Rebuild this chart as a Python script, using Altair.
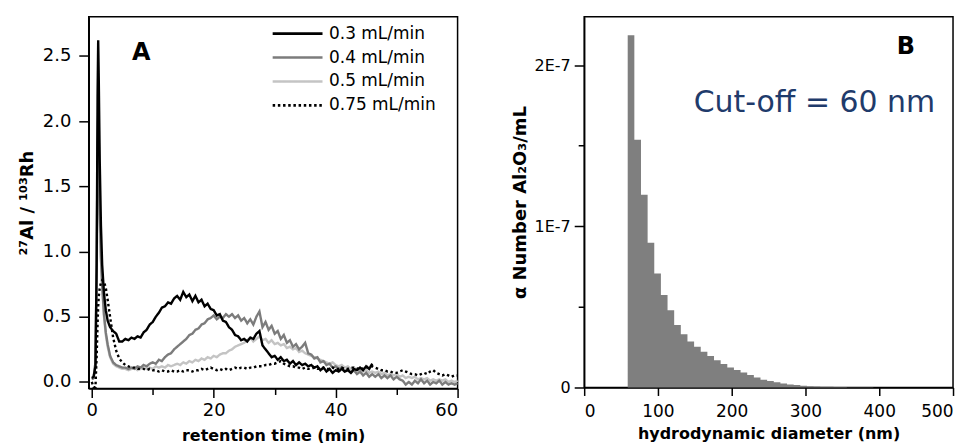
import altair as alt
import pandas as pd

# ---------------- Panel A data ----------------
t_early = [0.0, 0.3, 0.6, 0.8, 0.95, 1.05, 1.15, 1.3, 1.5, 1.7, 2.0, 2.3, 2.6, 3.0, 3.5, 4.0, 4.5]
t_late = [
    5.0, 5.5, 6.0, 6.5, 7.0, 7.5, 8.0, 8.5, 9.0, 9.5,
    10.0, 10.5, 11.0, 11.5, 12.0, 12.5, 13.0, 13.5, 14.0, 14.5,
    15.0, 15.5, 16.0, 16.5, 17.0, 17.5, 18.0, 18.5, 19.0, 19.5,
    20.0, 20.5, 21.0, 21.5, 22.0, 22.5, 23.0, 23.5, 24.0, 24.5,
    25.0, 25.5, 26.0, 26.5, 27.0, 27.5, 28.0, 28.5, 29.0, 29.5,
    30.0, 30.5, 31.0, 31.5, 32.0, 32.5, 33.0, 33.5, 34.0, 34.5,
    35.0, 35.5, 36.0, 36.5, 37.0, 37.5, 38.0, 38.5, 39.0, 39.5,
    40.0, 40.5, 41.0, 41.5, 42.0, 42.5, 43.0, 43.5, 44.0, 44.5,
    45.0, 45.5, 46.0, 46.5, 47.0, 47.5, 48.0, 48.5, 49.0, 49.5,
    50.0, 50.5, 51.0, 51.5, 52.0, 52.5, 53.0, 53.5, 54.0, 54.5,
    55.0, 55.5, 56.0, 56.5, 57.0, 57.5, 58.0, 58.5, 59.0, 59.5,
    60.0,
]

flow_03_early = [0.03, 0.04, 0.12, 0.9, 2.2, 2.62, 2.3, 1.7, 1.2, 0.9, 0.68, 0.55, 0.47, 0.42, 0.39, 0.37, 0.31]
flow_03_late = [
    0.31, 0.33, 0.32, 0.34, 0.33, 0.35, 0.34, 0.38, 0.40, 0.44,
    0.46, 0.50, 0.53, 0.57, 0.58, 0.61, 0.60, 0.64, 0.66, 0.63,
    0.69, 0.65, 0.67, 0.62, 0.66, 0.61, 0.63, 0.58, 0.60, 0.56,
    0.55, 0.51, 0.52, 0.47, 0.46, 0.42, 0.40, 0.36, 0.35, 0.32,
    0.33, 0.31, 0.34, 0.33, 0.37, 0.39, 0.28, 0.25, 0.22, 0.19,
    0.20, 0.17, 0.19, 0.16, 0.17, 0.14, 0.16, 0.13, 0.15, 0.13,
    0.14, 0.12, 0.13, 0.11, 0.12, 0.09, 0.11, 0.08, 0.10, 0.07,
    0.09, 0.08, 0.10, 0.08, 0.09, 0.07, 0.10, 0.09, 0.11, 0.09,
    0.12, 0.10, 0.14,
]

flow_04_early = [0.02, 0.03, 0.15, 0.9, 1.8, 2.05, 1.85, 1.35, 0.95, 0.75, 0.52, 0.38, 0.29, 0.20, 0.15, 0.13, 0.12]
flow_04_late = [
    0.11, 0.11, 0.10, 0.11, 0.10, 0.12, 0.11, 0.13, 0.12, 0.14,
    0.15, 0.14, 0.17, 0.16, 0.19, 0.21, 0.22, 0.25, 0.27, 0.29,
    0.31, 0.33, 0.36, 0.37, 0.40, 0.41, 0.44, 0.45, 0.48, 0.49,
    0.51, 0.48, 0.50, 0.49, 0.52, 0.50, 0.52, 0.49, 0.51, 0.47,
    0.49, 0.45, 0.48, 0.44, 0.50, 0.54, 0.42, 0.46, 0.40, 0.43,
    0.37, 0.39, 0.33, 0.36, 0.30, 0.32, 0.27, 0.29, 0.25, 0.27,
    0.30, 0.22, 0.21, 0.18, 0.19, 0.15, 0.16, 0.13, 0.14, 0.11,
    0.12, 0.10, 0.11, 0.08, 0.10, 0.07, 0.09, 0.06, 0.08, 0.05,
    0.07, 0.04, 0.06, 0.04, 0.06, 0.03, 0.05, 0.03, 0.05, 0.02,
    0.04, 0.02, 0.01, -0.02, 0.00, -0.02, 0.01, -0.01, 0.02, -0.01,
    0.01, -0.02, 0.00, -0.01, 0.01, -0.02, 0.00, -0.02, -0.01, -0.02,
    -0.01,
]

flow_05_early = [0.02, 0.03, 0.15, 0.8, 1.5, 1.75, 1.7, 1.3, 0.95, 0.72, 0.50, 0.36, 0.27, 0.19, 0.14, 0.12, 0.11]
flow_05_late = [
    0.10, 0.10, 0.09, 0.10, 0.11, 0.09, 0.10, 0.11, 0.10, 0.11,
    0.10, 0.12, 0.11, 0.12, 0.11, 0.13, 0.12, 0.13, 0.14, 0.13,
    0.15, 0.14, 0.16, 0.15, 0.17, 0.16, 0.18, 0.17, 0.19, 0.18,
    0.20, 0.19, 0.21, 0.22, 0.22, 0.24, 0.25, 0.27, 0.28, 0.29,
    0.30, 0.32, 0.34, 0.31, 0.33, 0.35, 0.32, 0.33, 0.30, 0.32,
    0.29, 0.30, 0.28, 0.29, 0.26, 0.27, 0.25, 0.26, 0.23, 0.24,
    0.22, 0.21, 0.20, 0.19, 0.18, 0.17, 0.16, 0.15, 0.14, 0.15,
    0.13, 0.12, 0.13, 0.11, 0.12, 0.10, 0.11, 0.09, 0.10, 0.08,
    0.09, 0.07, 0.08, 0.07, 0.08, 0.06, 0.07, 0.05, 0.06, 0.05,
    0.06, 0.04, 0.05, 0.03, 0.04, 0.03, 0.04, 0.02, 0.03, 0.02,
    0.03, 0.01, 0.02, 0.01, 0.02, 0.01, 0.02, 0.00, 0.01, 0.00,
    0.01,
]

flow_075_early = [0.0, -0.04, -0.04, 0.2, 0.45, 0.58, 0.66, 0.72, 0.76, 0.78, 0.77, 0.72, 0.63, 0.50, 0.34, 0.24, 0.18]
flow_075_late = [
    0.15, 0.13, 0.12, 0.11, 0.11, 0.10, 0.10, 0.10, 0.09, 0.10,
    0.09, 0.09, 0.08, 0.09, 0.08, 0.08, 0.09, 0.08, 0.08, 0.09,
    0.08, 0.09, 0.09, 0.08, 0.09, 0.09, 0.10, 0.09, 0.10, 0.11,
    0.10, 0.09, 0.10, 0.09, 0.10, 0.09, 0.10, 0.11, 0.10, 0.11,
    0.11, 0.10, 0.11, 0.11, 0.12, 0.12, 0.12, 0.13, 0.13, 0.14,
    0.14, 0.15, 0.16, 0.14, 0.13, 0.12, 0.12, 0.11, 0.11, 0.10,
    0.11, 0.10, 0.10, 0.11, 0.10, 0.10, 0.11, 0.10, 0.10, 0.11,
    0.10, 0.10, 0.11, 0.10, 0.10, 0.11, 0.11, 0.10, 0.11, 0.10,
    0.11, 0.12, 0.12, 0.11, 0.10, 0.09, 0.09, 0.08, 0.08, 0.07,
    0.07, 0.08, 0.09, 0.08, 0.07, 0.06, 0.06, 0.05, 0.06, 0.07,
    0.06, 0.08, 0.09, 0.07, 0.06, 0.05, 0.06, 0.05, 0.04, 0.05,
    0.05,
]

series_names = ["0.3 mL/min", "0.4 mL/min", "0.5 mL/min", "0.75 mL/min"]
series_colors = ["#000000", "#7c7c7c", "#c4c4c4", "#000000"]
series_dash = [[1, 0], [1, 0], [1, 0], [2.5, 2.7]]

rows = []
for order, (name, early, late) in enumerate([
    (series_names[2], flow_05_early, flow_05_late),
    (series_names[1], flow_04_early, flow_04_late),
    (series_names[0], flow_03_early, flow_03_late),
    (series_names[3], flow_075_early, flow_075_late),
]):
    for t, v in zip(t_early + t_late, early + late):
        rows.append({"series": name, "t": t, "v": v, "ord": order})
df_a = pd.DataFrame(rows)

# ---------------- Panel B data ----------------
bin_start = [59, 68, 77, 86, 95, 104, 113, 122, 131, 140,
             149, 158, 167, 176, 185, 194, 203, 212, 221, 230,
             239, 248, 257, 266, 275, 284, 293, 302, 311, 320,
             329, 338, 347, 356, 365, 374, 383, 392]
# heights in units of 1E-7 (last entry closes the final bin)
bin_height = [2.185, 1.536, 1.196, 0.897, 0.707, 0.573, 0.479, 0.388, 0.330, 0.285,
              0.252, 0.221, 0.196, 0.169, 0.145, 0.124, 0.109, 0.093, 0.078, 0.062,
              0.048, 0.040, 0.032, 0.025, 0.019, 0.015, 0.011, 0.008, 0.006, 0.005,
              0.004, 0.003, 0.0025, 0.002, 0.0015, 0.0012, 0.001, 0.0]
df_b = pd.DataFrame({"x0": bin_start, "h": bin_height})

# ---------------- Panel A chart ----------------
xa = alt.X("t:Q", scale=alt.Scale(domain=[-0.5, 60], nice=False, zero=False),
           axis=alt.Axis(title="retention time (min)", values=[0, 10, 20, 30, 40, 50, 60],
                         labelExpr="datum.value % 20 === 0 ? datum.label : ''",
                         tickSize={"condition": {"test": "datum.value % 20 === 0", "value": 9}, "value": 6},
                         labelPadding=4, labelFontSize=18, titleFontSize=16, titlePadding=8))
ya = alt.Y("v:Q", scale=alt.Scale(domain=[-0.05, 2.8], nice=False, zero=False),
           axis=alt.Axis(title="²⁷Al / ¹⁰³Rh", values=[0, 0.5, 1.0, 1.5, 2.0, 2.5], format=".1f",
                         tickSize=10, labelPadding=8, labelFontSize=18, titleFontSize=18,
                         titlePadding=6))

legend_opts = dict(title=None, orient="none", legendX=183, legendY=5,
                   symbolType="stroke", symbolSize=2500, symbolStrokeWidth=2.6,
                   labelFontSize=17, labelOffset=5, rowPadding=0, clipHeight=24, padding=0,
                   labelColor="black")

lines = alt.Chart(df_a).mark_line(strokeWidth=2.4).encode(
    x=xa, y=ya,
    color=alt.Color("series:N", scale=alt.Scale(domain=series_names, range=series_colors),
                    legend=alt.Legend(**legend_opts)),
    strokeDash=alt.StrokeDash("series:N", scale=alt.Scale(domain=series_names, range=series_dash),
                              legend=alt.Legend(**legend_opts)),
    detail="ord:O",
    order="t:Q",
)

label_a = pd.DataFrame({"t": [8.1], "v": [2.52], "txt": ["A"]})
text_a = alt.Chart(label_a).mark_text(fontSize=24, fontWeight="bold", color="black").encode(
    x="t:Q", y="v:Q", text="txt:N")

left = alt.layer(lines, text_a).properties(width=370, height=373)

# ---------------- Panel B chart ----------------
xb = alt.X("x0:Q", scale=alt.Scale(domain=[0, 500], nice=False),
           axis=alt.Axis(title="hydrodynamic diameter (nm)", values=list(range(0, 501, 50)),
                         labelExpr="datum.value % 100 === 0 ? datum.label : ''",
                         tickSize={"condition": {"test": "datum.value % 100 === 0", "value": 8}, "value": 6},
                         labelPadding=8, labelFontSize=17, titleFontSize=16, titlePadding=6))
yb = alt.Y("h:Q", scale=alt.Scale(domain=[0, 2.30], nice=False),
           axis=alt.Axis(title="α Number Al₂O₃/mL", values=[0, 0.5, 1.0, 1.5, 2.0],
                         labelExpr="datum.value === 0 ? '0' : (datum.value === 1 ? '1E-7' : (datum.value === 2 ? '2E-7' : ''))",
                         tickSize={"condition": {"test": "datum.value % 1 === 0", "value": 10}, "value": 6},
                         labelPadding=4, labelFontSize=16, titleFontSize=18, titlePadding=5))

bars = alt.Chart(df_b).mark_area(color="#7f7f7f", interpolate="step-after", opacity=1).encode(
    x=xb, y=yb)

ann_b = pd.DataFrame({"x0": [436.0, 312.0], "h": [2.11, 1.767], "txt": ["B", "Cut-off = 60 nm"],
                      "kind": ["B", "cut"]})
text_b1 = alt.Chart(ann_b[ann_b.kind == "B"]).mark_text(fontSize=24, fontWeight="bold", color="black").encode(
    x="x0:Q", y="h:Q", text="txt:N")
text_b2 = alt.Chart(ann_b[ann_b.kind == "cut"]).mark_text(fontSize=30, color="#1f3b6b").encode(
    x="x0:Q", y="h:Q", text="txt:N")

right = alt.layer(bars, text_b1, text_b2).properties(width=370, height=372)

chart = alt.hconcat(left, right, spacing=47).configure(
    font="DejaVu Sans",
    padding={"left": 9, "top": 7, "right": 5, "bottom": 0},
).configure_view(stroke="black", strokeWidth=1.5).configure_axis(
    grid=False, domainColor="black", domainWidth=1.5, tickColor="black", tickWidth=1.5,
    labelColor="black", titleColor="black", titleFontWeight="bold", labelFont="DejaVu Sans",
    titleFont="DejaVu Sans",
)

chart.save("out.html", embed_options={"renderer": "svg", "actions": False})
